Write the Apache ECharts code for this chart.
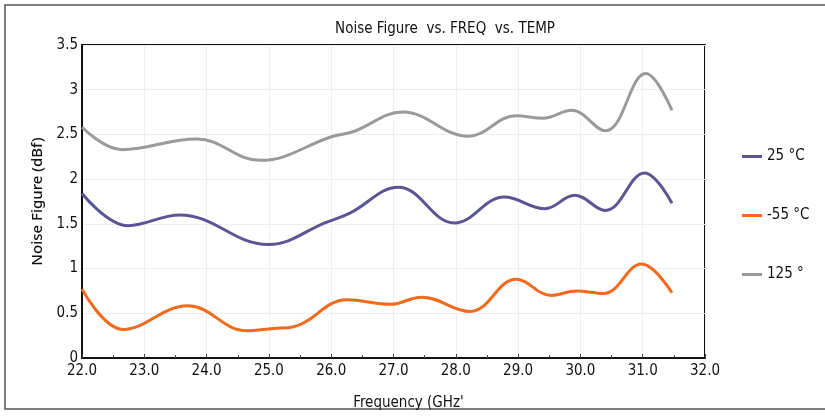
<!DOCTYPE html>
<html><head><meta charset="utf-8">
<script src="https://cdn.jsdelivr.net/npm/echarts@6/dist/echarts.min.js"></script>
<style>html,body{margin:0;padding:0;background:#fff}#c{width:825px;height:416px}</style>
</head><body><div id="c"></div>
<script>
const seriesNames = ['25 °C', '-55 °C', '125 °'];
const xTicks = [22, 23, 24, 25, 26, 27, 28, 29, 30, 31, 32];
const yTicks = [0, 0.5, 1, 1.5, 2, 2.5, 3, 3.5];

const freq25 = [22.0, 22.74, 23.57, 24.99, 25.93, 26.3, 27.08, 27.98, 28.78, 29.43, 29.91, 30.4, 31.03, 31.47];
const nf25   = [1.84, 1.48, 1.60, 1.27, 1.52, 1.62, 1.91, 1.51, 1.80, 1.67, 1.82, 1.65, 2.07, 1.73];

const freqM55 = [22.0, 22.66, 23.7, 24.64, 25.07, 25.4, 26.25, 26.95, 27.45, 28.23, 28.97, 29.53, 29.93, 30.37, 30.98, 31.47];
const nfM55   = [0.77, 0.32, 0.585, 0.305, 0.33, 0.35, 0.65, 0.60, 0.68, 0.52, 0.88, 0.70, 0.75, 0.72, 1.05, 0.73];

const freq125 = [22.0, 22.64, 23.84, 24.86, 26.03, 26.35, 27.15, 28.2, 28.97, 29.4, 29.86, 30.4, 31.05, 31.47];
const nf125   = [2.58, 2.33, 2.45, 2.21, 2.48, 2.53, 2.75, 2.48, 2.71, 2.68, 2.77, 2.54, 3.18, 2.77];

const colors = ['#5b5596', '#f26a1b', '#9a9a9a'];
const FONT = "'DejaVu Sans Condensed','Liberation Sans Narrow','Noto Sans',sans-serif";

function pairs(xs, ys){ return xs.map((x,i)=>[x, ys[i]]); }

const chart = echarts.init(document.getElementById('c'));
chart.setOption({
  animation: false,
  backgroundColor: '#fff',
  title: {
    text: 'Noise Figure  vs. FREQ  vs. TEMP',
    left: 440, top: 17, textAlign: 'center',
    textStyle: { fontFamily: FONT, fontSize: 15, fontWeight: 'normal', color: '#111' }
  },
  graphic: [{
    type: 'rect', shape: { x: 5, y: 5, width: 830, height: 404 },
    style: { fill: 'none', stroke: '#555', lineWidth: 1.5 }, silent: true
  }],
  legend: {
    orient: 'vertical', left: 737, top: 144, itemGap: 44,
    itemWidth: 20, itemHeight: 3, icon: 'rect',
    data: seriesNames,
    textStyle: { fontFamily: FONT, fontSize: 15, color: '#111' }
  },
  grid: { left: 82, right: 120, top: 45, bottom: 58, show: true, borderColor: '#111', borderWidth: 2 },
  xAxis: {
    type: 'value', min: xTicks[0], max: xTicks[xTicks.length-1], interval: 1,
    name: 'Frequency (GHz\'', nameLocation: 'middle', nameGap: 38,
    nameTextStyle: { fontFamily: FONT, fontSize: 15, color: '#111', padding: [0,0,0,30] },
    axisLine: { lineStyle: { color: '#111', width: 2 } },
    axisTick: { show: true, inside: true, length: 4, lineStyle: { color: '#444' } },
    minorTick: { show: true, splitNumber: 2, length: 3, lineStyle: { color: '#444' } },
    axisLabel: { fontFamily: FONT, fontSize: 15, color: '#111', margin: 6, formatter: v => v.toFixed(1) },
    splitLine: { show: true, lineStyle: { color: '#eeeeee', width: 1 } }
  },
  yAxis: {
    type: 'value', min: yTicks[0], max: yTicks[yTicks.length-1], interval: 0.5,
    name: 'Noise Figure (dBf)', nameLocation: 'middle', nameGap: 34,
    nameTextStyle: { fontFamily: "'Noto Sans',sans-serif", fontSize: 15, fontWeight: 500, color: '#111' },
    axisLine: { lineStyle: { color: '#111', width: 2 } },
    axisTick: { show: false },
    axisLabel: { fontFamily: FONT, fontSize: 15, color: '#111', margin: 4, formatter: v => String(v) },
    splitLine: { show: true, lineStyle: { color: '#eeeeee', width: 1 } }
  },
  series: [
    { name: seriesNames[0], type: 'line', data: pairs(freq25, nf25), smooth: 0.4, showSymbol: false, lineStyle: { width: 3, color: colors[0] }, itemStyle: { color: colors[0] } },
    { name: seriesNames[1], type: 'line', data: pairs(freqM55, nfM55), smooth: 0.4, showSymbol: false, lineStyle: { width: 3, color: colors[1] }, itemStyle: { color: colors[1] } },
    { name: seriesNames[2], type: 'line', data: pairs(freq125, nf125), smooth: 0.4, showSymbol: false, lineStyle: { width: 3, color: colors[2] }, itemStyle: { color: colors[2] } }
  ]
});
</script></body></html>
